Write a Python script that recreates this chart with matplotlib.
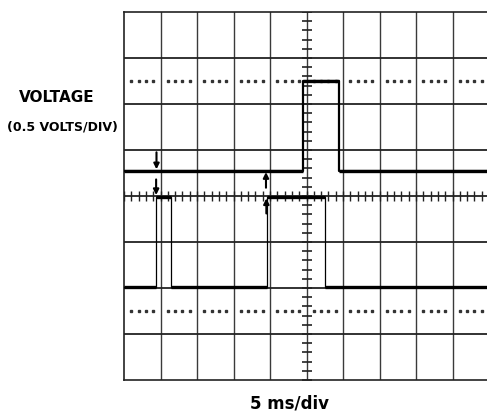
import matplotlib
matplotlib.use("Agg")
import matplotlib.pyplot as plt
import numpy as np

# Data (in scope divisions)
trace1_edges_x = [0.0, 4.91, 5.90, 10.0]      # transition times
trace1_levels = [0.55, 2.5, 0.55]             # level between edges
trace2_edges_x = [0.0, 0.88, 1.28, 3.91, 5.51, 10.0]
trace2_levels = [-1.98, -0.02, -1.98, -0.02, -1.98]

# marker arrows: (x, y_tail, y_tip)
arrows_x = [0.89, 3.89, 0.88, 3.90]
arrows_tail = [0.95, 0.18, 0.36, -0.38]
arrows_tip = [0.58, 0.52, 0.02, -0.05]

x_label = "5 ms/div"
y_label = "VOLTAGE"
y_sublabel = "(0.5 VOLTS/DIV)"

W, H = 487, 416
fig = plt.figure(figsize=(W / 100, H / 100), dpi=100)
ax = fig.add_axes([124 / W, 36 / H, 365 / W, 368 / H])
ax.set_xlim(0, 10)
ax.set_ylim(-4, 4)
ax.set_xticks([])
ax.set_yticks([])
for s in ["left", "top", "bottom"]:
    ax.spines[s].set_linewidth(1.2)
    ax.spines[s].set_color("#222222")
ax.spines["right"].set_visible(False)

# grid
for xv in range(1, 10):
    ax.axvline(xv, color="#3a3a3a", lw=1.0, zorder=1)
for yv in range(-3, 4):
    ax.axhline(yv, color="#222222", lw=1.3, zorder=1)

# center minor ticks
minor = np.arange(0, 10.01, 0.2)
ax.plot(minor, np.zeros_like(minor), linestyle="none", marker="|",
        markersize=7, color="#222222", mew=1.0, zorder=2)
minor_y = np.arange(-4, 4.01, 0.2)
ax.plot(np.full_like(minor_y, 5.0), minor_y, linestyle="none", marker="_",
        markersize=7, color="#222222", mew=1.2, zorder=2)

# dotted reference lines at +/-2.5 div
dots = np.array([v for v in np.arange(0.2, 10, 0.2) if abs(v - round(v)) > 0.05])
for yv in (2.5, -2.5):
    ax.plot(dots, np.full_like(dots, yv), linestyle="none", marker="s",
            markersize=1.6, color="#333333", zorder=2)


def draw_trace(edges, levels, thick_vert):
    xs, ys = [], []
    for i, lv in enumerate(levels):
        xs += [edges[i], edges[i + 1]]
        ys += [lv, lv]
    ax.plot(xs, ys, color="black", lw=1.6 if thick_vert else 0.9, zorder=3)
    for i, lv in enumerate(levels):
        ax.plot([edges[i], edges[i + 1]], [lv, lv], color="black", lw=2.4,
                solid_capstyle="butt", zorder=4)


draw_trace(trace1_edges_x, trace1_levels, True)
draw_trace(trace2_edges_x, trace2_levels, False)

for x, yt, yp in zip(arrows_x, arrows_tail, arrows_tip):
    ax.annotate("", xy=(x, yp), xytext=(x, yt),
                arrowprops=dict(arrowstyle="-|>", color="black", lw=1.5,
                                mutation_scale=8, shrinkA=0, shrinkB=0),
                zorder=5)

fig.text(57 / W, 1 - 98 / H, y_label, ha="center", va="center",
         fontsize=11, fontweight="bold", family="DejaVu Sans")
fig.text(62.5 / W, 1 - 127 / H, y_sublabel, ha="center", va="center",
         fontsize=9, fontweight="bold", family="DejaVu Sans")
fig.text(289.5 / W, 1 - 404 / H, x_label, ha="center", va="center",
         fontsize=12, fontweight="bold", family="DejaVu Sans")

fig.savefig("out.png", dpi=100)
